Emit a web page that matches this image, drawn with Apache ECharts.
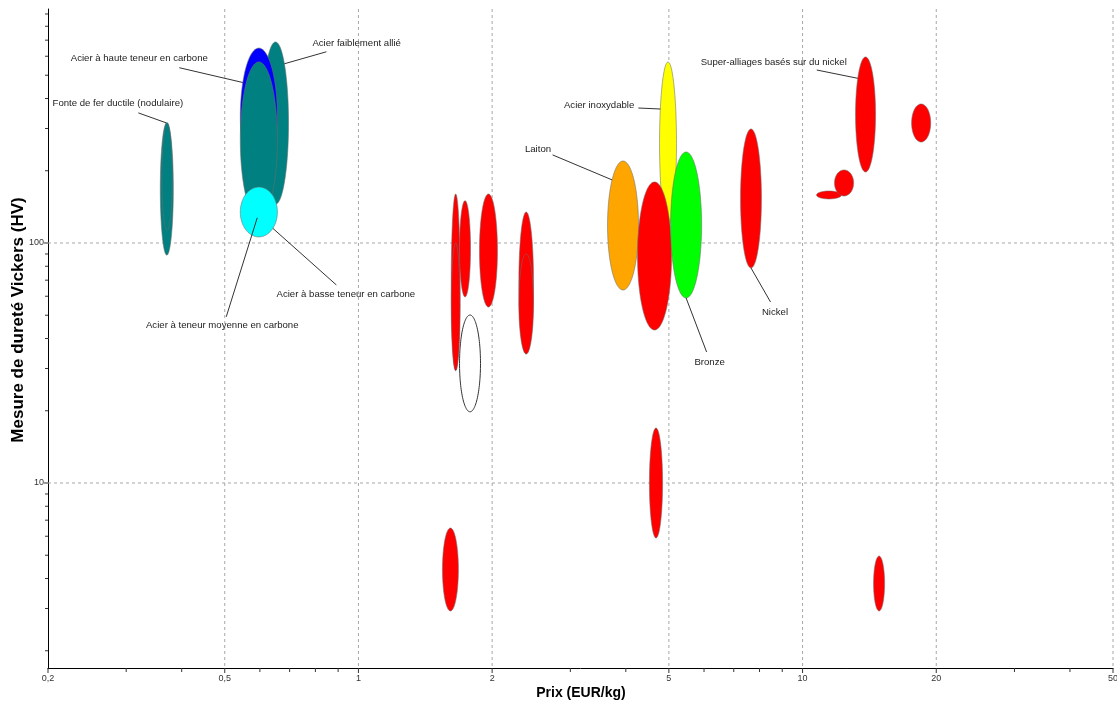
<!DOCTYPE html>
<html>
<head>
<meta charset="utf-8">
<script src="https://cdn.jsdelivr.net/npm/echarts@6/dist/echarts.min.js"></script>
<style>html,body{margin:0;padding:0;background:#fff}#chart{width:1117px;height:706px}</style>
</head>
<body>
<div id="chart"></div>
<script>
// ---------- DATA ----------
const materialNames = [
  'Fonte de fer ductile (nodulaire)', 'Fonte (variante)',
  'Acier faiblement allié', 'Acier à haute teneur en carbone',
  'Acier à teneur moyenne en carbone', 'Acier à basse teneur en carbone',
  'Non ferreux A1', 'Non ferreux A2', 'Non ferreux B', 'Non ferreux C',
  'Non ferreux D1', 'Non ferreux D2', 'Non ferreux E', 'Non ferreux F',
  'Laiton', 'Acier inoxydable', 'Non ferreux G', 'Bronze', 'Non ferreux H',
  'Nickel', 'Non ferreux I', 'Non ferreux J', 'Super-alliages basés sur du nickel',
  'Non ferreux K', 'Non ferreux L'
];
const priceMin    = [0.358, 0.361, 0.608, 0.542, 0.542, 0.542, 1.618, 1.618, 1.689, 1.873, 2.297, 2.297, 1.689, 1.546, 3.638, 4.764, 4.25, 5.045, 4.52, 7.25, 10.75, 11.8, 13.16, 17.6, 14.45];
const priceMax    = [0.383, 0.381, 0.696, 0.657, 0.657, 0.657, 1.694, 1.694, 1.788, 2.056, 2.479, 2.479, 1.883, 1.679, 4.272, 5.202, 5.07, 5.925, 4.84, 8.08, 12.24, 13.03, 14.6, 19.43, 15.3];
const hardnessMin = [89, 113, 145, 173, 127, 106, 29.4, 29.4, 59.6, 54.1, 34.5, 34.5, 19.8, 2.93, 63.7, 118.9, 43.4, 59.0, 5.90, 78.7, 152.6, 157, 197.6, 263.5, 2.93];
const hardnessMax = [317, 317, 688, 649, 568, 171, 160, 100, 150, 160, 134.6, 90, 50.1, 6.49, 219.6, 568, 179.6, 239.4, 16.95, 298.5, 164.7, 201.5, 595.7, 379.5, 4.96];
const materialColors = [
  '#008080', '#008080', '#008080', '#0000ff', '#008080', '#00ffff',
  '#ff0000', '#ff0000', '#ff0000', '#ff0000', '#ff0000', '#ff0000', 'none', '#ff0000',
  '#ffa500', '#ffff00', '#ff0000', '#00ff00', '#ff0000', '#ff0000', '#ff0000', '#ff0000', '#ff0000',
  '#ff0000', '#ff0000'
];

const xMajorTicks = [0.2, 0.5, 1, 2, 5, 10, 20, 50];
const xTickLabels = ['0,2', '0,5', '1', '2', '5', '10', '20', '50'];
const xMinorTicks = [0.3, 0.4, 0.6, 0.7, 0.8, 0.9, 3, 4, 6, 7, 8, 9, 30, 40];
const yMajorTicks = [10, 100];
const yTickLabels = ['10', '100'];
const yMinorTicks = [2, 3, 4, 5, 6, 7, 8, 9, 20, 30, 40, 50, 60, 70, 80, 90, 200, 300, 400, 500, 600, 700, 800, 900];

const xTitle = 'Prix (EUR/kg)';
const yTitle = 'Mesure de dureté Vickers (HV)';
const X_MIN = 0.2, X_MAX = 50, Y_MIN = 1.695, Y_MAX = 944;

// ---------- LAYOUT (annotations) ----------
const LABEL_FONT = "'Liberation Sans', Arial, sans-serif";
const annotations = [
  { i: 0,  angle: 94,  line: [-28, -10],   text: [-48.5, -20],  align: 'center' },
  { i: 3,  angle: 150, line: [-63.5, -14.8], text: [-103.5, -23.8], align: 'center' },
  { i: 2,  angle: 47,  line: [42, -12],    text: [28, -20],     align: 'left' },
  { i: 5,  angle: -41, line: [63.5, 56.6], text: [73, 65.6],    align: 'center' },
  { i: 4,  angle: -95, line: [-31, 99],    text: [-35, 108],    align: 'center' },
  { i: 14, angle: 135, line: [-59.5, -25], text: [-61, -31],    align: 'right' },
  { i: 15, angle: 155, line: [-22, -1],    text: [-26, -4],     align: 'right' },
  { i: 17, angle: -90, line: [20.5, 54],   text: [23.5, 64],    align: 'center' },
  { i: 19, angle: -90, line: [19.5, 34],   text: [24, 44],      align: 'center' },
  { i: 22, angle: 141, line: [-41, -8.3],  text: [-11, -16],    align: 'right' }
];

function ellipseBox(api, i) {
  const p1 = api.coord([priceMin[i], hardnessMax[i]]);
  const p2 = api.coord([priceMax[i], hardnessMin[i]]);
  return { cx: (p1[0] + p2[0]) / 2, cy: (p1[1] + p2[1]) / 2, rx: Math.abs(p2[0] - p1[0]) / 2, ry: Math.abs(p2[1] - p1[1]) / 2 };
}
function ellipsePoints(b) {
  const pts = [];
  for (let k = 0; k < 120; k++) {
    const t = k / 120 * Math.PI * 2;
    pts.push([b.cx + b.rx * Math.cos(t), b.cy + b.ry * Math.sin(t)]);
  }
  return pts;
}

const chart = echarts.init(document.getElementById('chart'), null, { renderer: 'canvas' });

const axisItems = [];
xMajorTicks.forEach((v, k) => axisItems.push({ value: [v, 0, k] }));
xMinorTicks.forEach(v => axisItems.push({ value: [v, 1, -1] }));
yMajorTicks.forEach((v, k) => axisItems.push({ value: [v, 2, k] }));
yMinorTicks.forEach(v => axisItems.push({ value: [v, 3, -1] }));

const option = {
  animation: false,
  backgroundColor: '#ffffff',
  grid: { left: 48, right: 4, top: 9, bottom: 38, containLabel: false },
  xAxis: {
    type: 'log', logBase: 10, min: X_MIN, max: X_MAX,
    axisLine: { show: true, onZero: false, lineStyle: { color: '#000', width: 1 } },
    axisTick: { show: false }, axisLabel: { show: false }, splitLine: { show: false }, minorTick: { show: false }
  },
  yAxis: {
    type: 'log', logBase: 10, min: Y_MIN, max: Y_MAX,
    axisLine: { show: true, onZero: false, lineStyle: { color: '#000', width: 1 } },
    axisTick: { show: false }, axisLabel: { show: false }, splitLine: { show: false }, minorTick: { show: false }
  },
  graphic: [
    { type: 'text', x: 581, y: 693, style: { text: xTitle, font: "bold 14px 'Liberation Sans', Arial, sans-serif", fill: '#000', textAlign: 'center', textVerticalAlign: 'middle' } },
    { type: 'text', x: 18, y: 320, rotation: Math.PI / 2, style: { text: yTitle, font: "bold 17px 'Liberation Sans', Arial, sans-serif", fill: '#000', textAlign: 'center', textVerticalAlign: 'middle' } }
  ],
  series: [
    {
      type: 'custom', name: 'axes', z: 1, silent: true, clip: false,
      data: axisItems,
      renderItem(params, api) {
        const cs = params.coordSys;
        const v = api.value(0), kind = api.value(1), k = api.value(2);
        const children = [];
        if (kind === 0 || kind === 1) {
          const x = api.coord([v, Y_MIN])[0];
          const bottom = cs.y + cs.height;
          if (kind === 0 && k > 0) {
            children.push({ type: 'line', shape: { x1: x, y1: cs.y, x2: x, y2: bottom }, style: { stroke: '#a8a8a8', lineWidth: 1, lineDash: [3, 3] } });
          }
          children.push({ type: 'line', shape: { x1: x, y1: bottom, x2: x, y2: bottom + (kind === 0 ? 5 : 4) }, style: { stroke: '#333', lineWidth: 1 } });
          if (kind === 0) {
            children.push({ type: 'text', x: x, y: bottom + 11, style: { text: xTickLabels[k], font: "9px " + LABEL_FONT, fill: '#333', textAlign: 'center', textVerticalAlign: 'middle' } });
          }
        } else {
          const y = api.coord([X_MIN, v])[1];
          if (kind === 2) {
            children.push({ type: 'line', shape: { x1: cs.x, y1: y, x2: cs.x + cs.width, y2: y }, style: { stroke: '#a8a8a8', lineWidth: 1, lineDash: [3, 3] } });
            children.push({ type: 'text', x: cs.x - 4, y: y, style: { text: yTickLabels[k], font: "9px " + LABEL_FONT, fill: '#333', textAlign: 'right', textVerticalAlign: 'middle' } });
          }
          children.push({ type: 'line', shape: { x1: cs.x - (kind === 2 ? 4 : 3), y1: y, x2: cs.x, y2: y }, style: { stroke: '#333', lineWidth: 1 } });
        }
        return { type: 'group', children };
      }
    },
    {
      type: 'custom', name: 'materials', z: 2, silent: true, clip: false,
      encode: { x: [0, 1], y: [2, 3] },
      data: materialNames.map((n, i) => ({ name: n, value: [priceMin[i], priceMax[i], hardnessMin[i], hardnessMax[i]] })),
      renderItem(params, api) {
        const i = params.dataIndex;
        const b = ellipseBox(api, i);
        const c = materialColors[i];
        const hollow = c === 'none';
        return {
          type: 'polygon',
          shape: { points: ellipsePoints(b) },
          style: {
            fill: hollow ? 'rgba(255,255,255,0)' : c,
            stroke: hollow ? '#333' : 'rgba(110,110,110,0.7)',
            lineWidth: hollow ? 1 : 0.8
          }
        };
      }
    },
    {
      type: 'custom', name: 'labels', z: 3, silent: true, clip: false,
      data: annotations.map(a => ({ value: [priceMin[a.i], hardnessMin[a.i]] })),
      renderItem(params, api) {
        const a = annotations[params.dataIndex];
        const b = ellipseBox(api, a.i);
        const t = a.angle * Math.PI / 180;
        const ax = b.cx + b.rx * Math.cos(t), ay = b.cy - b.ry * Math.sin(t);
        return {
          type: 'group',
          children: [
            { type: 'line', shape: { x1: ax, y1: ay, x2: ax + a.line[0], y2: ay + a.line[1] }, style: { stroke: '#333', lineWidth: 1 } },
            { type: 'text', x: ax + a.text[0], y: ay + a.text[1], style: { text: materialNames[a.i], font: "9.6px " + LABEL_FONT, fill: '#222', textAlign: a.align, textVerticalAlign: 'middle' } }
          ]
        };
      }
    }
  ]
};
chart.setOption(option);
</script>
</body>
</html>
